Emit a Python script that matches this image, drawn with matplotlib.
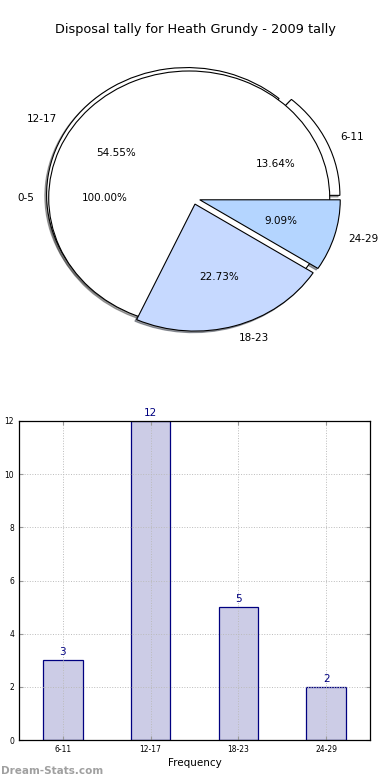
import matplotlib
matplotlib.use("Agg")
import matplotlib.pyplot as plt
import matplotlib.patches as mpatches

# data
pie_labels = ['6-11', '12-17', '18-23', '24-29']
pie_values = [3, 12, 5, 2]
pie_colors = ['white', 'white', '#c6d9ff', '#b4d5ff']
empty_label = '0-5'

bar_labels = ['6-11', '12-17', '18-23', '24-29']
bar_values = [3, 12, 5, 2]
y_ticks = [0, 2, 4, 6, 8, 10, 12]

W, H = 390, 780
fig = plt.figure(figsize=(W / 100, H / 100), dpi=100)

# ---- pie ----
cx, cy, rx, ry = 193, 198, 140.5, 127
L = 1.3
ax1 = fig.add_axes([(cx - L * rx) / W, (H - cy - L * ry) / H,
                    2 * L * rx / W, 2 * L * ry / H])
wp = dict(edgecolor='black', linewidth=0.8)
tp = dict(fontsize=7.5)
sh = dict(ox=-0.009, oy=-0.009)

# the empty 0-5 class shows up as a full circle
full, t0, a0 = ax1.pie([1], labels=[empty_label], colors=['white'], explode=[0.027],
                       autopct='%1.2f%%', startangle=0, shadow=sh,
                       wedgeprops=wp, textprops=tp)
wedges, t1, a1 = ax1.pie(pie_values, labels=pie_labels, colors=pie_colors,
                         explode=[0.05] * 4, autopct='%1.2f%%', startangle=0,
                         shadow=sh, wedgeprops=wp, textprops=tp)

for p in ax1.patches:
    if isinstance(p, mpatches.Shadow):
        p.set_zorder(0.1)
wedges[0].set_zorder(0.5)
wedges[1].set_zorder(0.5)
full[0].set_zorder(0.8)
wedges[2].set_zorder(1.0)
wedges[3].set_zorder(1.0)

ax1.set_aspect('auto')
ax1.set_xlim(-L, L)
ax1.set_ylim(-L, L)
ax1.axis('off')

fig.text(0.5, 1 - 30 / H, 'Disposal tally for Heath Grundy - 2009 tally',
         ha='center', va='center', fontsize=9.3)

# ---- bars ----
ax2 = fig.add_axes([19 / W, 40 / H, 351 / W, 319 / H])
x = list(range(len(bar_values)))
ax2.bar(x, bar_values, width=0.45, color='#ccccE6', edgecolor='#000080', linewidth=0.9)
for xi, v in zip(x, bar_values):
    ax2.text(xi, v + 0.12, str(v), ha='center', va='bottom', color='#000080', fontsize=7.5)

ax2.set_xlim(-0.5, 3.5)
ax2.set_ylim(0, 12)
ax2.set_xticks(x)
ax2.set_xticklabels(bar_labels)
ax2.set_yticks(y_ticks)
ax2.tick_params(direction='in', length=3, labelsize=5.5, top=True, right=True,
                color='#999999')
ax2.grid(True, linestyle=':', color='#bbbbbb', linewidth=0.7)
ax2.set_axisbelow('line')
ax2.set_xlabel('Frequency', fontsize=7.5, labelpad=3)
ax2.set_ylabel('Disposal tally', fontsize=7.5)
ax2.yaxis.set_label_coords(-0.058, 0.5)
for s in ax2.spines.values():
    s.set_linewidth(0.9)

fig.text(0.002, 1 - 771 / H, 'Dream-Stats.com', ha='left', va='center',
         fontsize=7.5, color='#a0a0a0', fontweight='bold')

fig.savefig('out.png', dpi=100)
